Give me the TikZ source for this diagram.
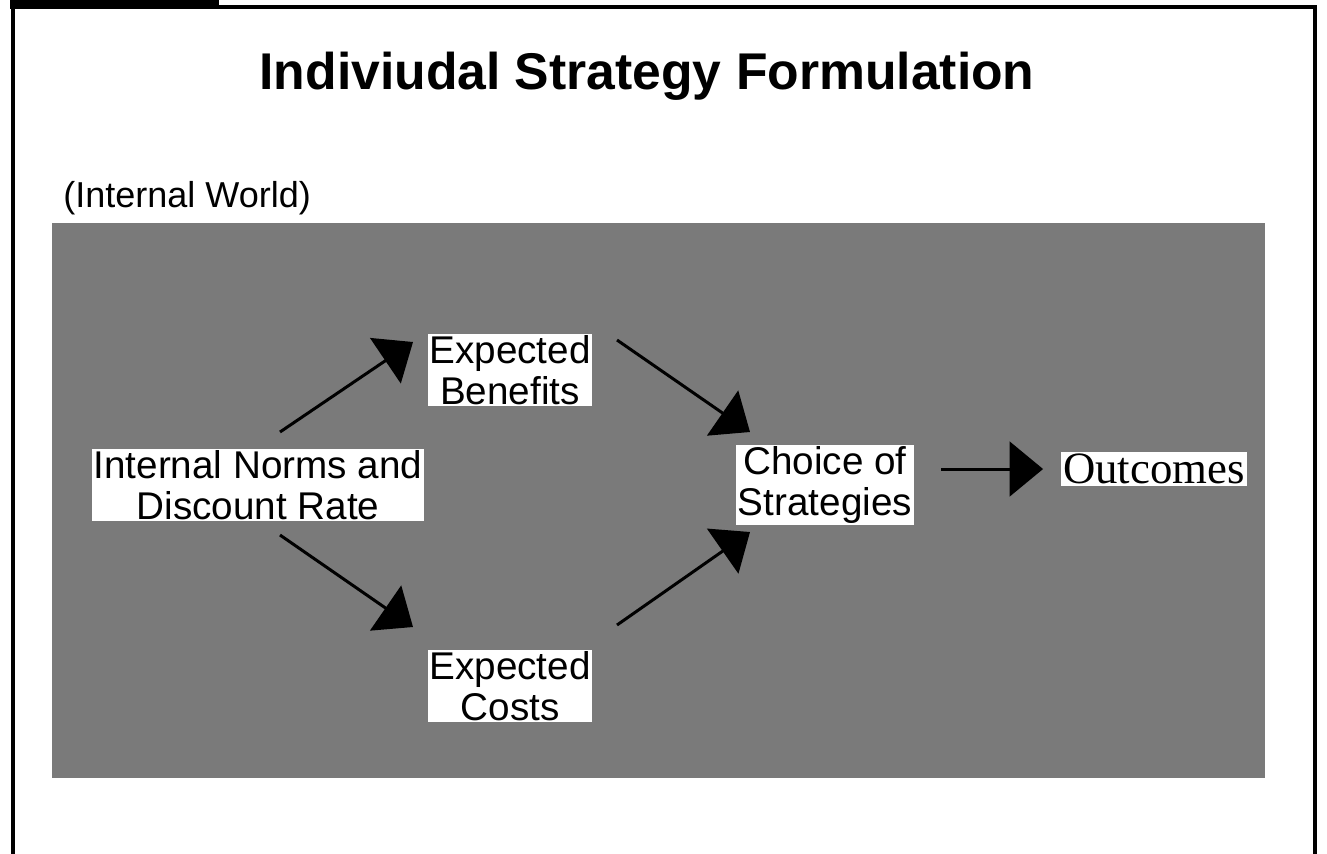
\documentclass[tikz,border=0pt]{standalone}
\usepackage{fontspec}
\setsansfont{Liberation Sans}
\newfontfamily\outfont{Liberation Serif}
\usetikzlibrary{arrows.meta}

\begin{document}
\begin{tikzpicture}[
    x=0.02cm, y=-0.02cm,
    label-box/.style={fill=white, inner sep=1pt, align=center, font=\sffamily\fontsize{22}{23}\selectfont},
    big-arrow/.style={line width=1.7pt, -{Triangle[length=19pt, width=31pt]}}
]
    \useasboundingbox (0,0) rectangle (1327,853);
    \clip (0,0) rectangle (1327,853);

    % Frame with the dark tab at the top left
    \fill[black] (10,0) rectangle (219,9);
    \draw[line width=2pt] (13,870) -- (13,7) -- (1315,7) -- (1315,870);

    % Title and region caption
    \node[font=\sffamily\bfseries\fontsize{29.4}{32}\selectfont, anchor=base] (title) at (647,89)
        {Indiviudal Strategy Formulation};
    \node[font=\sffamily\fontsize{20.5}{22}\selectfont, anchor=base west, inner sep=0pt] (world) at (63,207)
        {(Internal World)};

    % Shaded area of the internal world
    \fill[black!52] (52,223) rectangle (1265,778);

    % Nodes
    \node[label-box] (ben) at (510,370) {Expected\\Benefits};
    \node[label-box] (inm) at (258,485) {Internal Norms and\\Discount Rate};
    \node[label-box] (cho) at (825,485) {Choice of\\Strategies};
    \node[label-box] (cos) at (510,686) {Expected\\Costs};
    \node[fill=white, inner sep=1pt, font=\outfont\fontsize{25.5}{27}\selectfont] (out) at (1154,469) {Outcomes};

    % Connectors
    \draw[big-arrow] ([shift={(22,-53)}]inm.center) -- ([shift={(-97,-28)}]ben.center);
    \draw[big-arrow] ([shift={(22,50)}]inm.center) -- ([shift={(-97,-59)}]cos.center);
    \draw[big-arrow] ([shift={(107,-30)}]ben.center) -- ([shift={(-75,-53)}]cho.center);
    \draw[big-arrow] ([shift={(107,-61)}]cos.center) -- ([shift={(-75,47)}]cho.center);
    \draw[big-arrow, shorten <=0.54cm, shorten >=0.36cm] (cho.east |- out.west) -- (out.west);

\end{tikzpicture}
\end{document}
